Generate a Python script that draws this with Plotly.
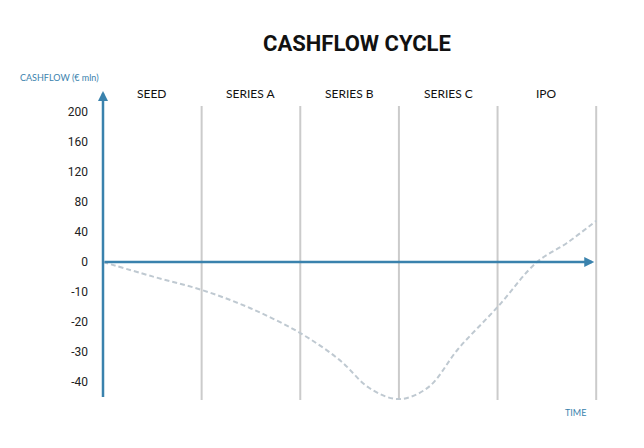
import plotly.graph_objects as go

# stage names shown above the timeline
stages = ["SEED", "SERIES A", "SERIES B", "SERIES C", "IPO"]

# y ticks (non-linear axis: 40 per step above zero, 10 per step below)
tick_labels = [200, 160, 120, 80, 40, 0, -10, -20, -30, -40]

# cashflow curve (time in stages, cashflow in € mln)
time_pts = [0, 0.5, 1, 1.5, 2, 2.4, 2.7, 3, 3.3, 3.6, 4, 4.4, 4.7, 5]
cash_pts = [0, -4.8, -9.3, -15.5, -23.7, -32.7, -42, -45.7, -41.7, -29, -15, 0, 25, 55]

AXIS_BLUE = "#3a82ad"
GRID_GRAY = "#cbcbcb"

Y_MIN, Y_MAX = -4.6, 5.8


def to_axis(v):
    # piecewise scale so each tick step has the same height
    return v / 40 if v >= 0 else v / 10


def paper_y(u):
    return (u - Y_MIN) / (Y_MAX - Y_MIN)


fig = go.Figure()

fig.add_trace(go.Scatter(
    x=time_pts,
    y=[to_axis(v) for v in cash_pts],
    mode="lines",
    line=dict(color="#bfc9d1", width=2, dash="5px,3px", shape="spline", smoothing=1),
    hoverinfo="skip",
    showlegend=False,
))

# stage boundaries
for i in range(1, len(stages) + 1):
    fig.add_shape(type="line", xref="x", yref="y", x0=i, x1=i, y0=-4.6, y1=5.2,
                  line=dict(color=GRID_GRAY, width=2), layer="below")

# stage labels
for i, s in enumerate(stages):
    fig.add_annotation(x=i + 0.5, y=5.62, xref="x", yref="y", text=s, showarrow=False,
                       font=dict(family="Lato", size=12, color="#111111"))

# axes with arrows
fig.add_annotation(x=0, y=5.7, ax=0, ay=-4.55, xref="x", yref="y", axref="x", ayref="y",
                   text="", showarrow=True, arrowhead=2, arrowsize=0.8, arrowwidth=2.5,
                   arrowcolor=AXIS_BLUE)
fig.add_annotation(x=4.98, y=0, ax=0, ay=0, xref="x", yref="y", axref="x", ayref="y",
                   text="", showarrow=True, arrowhead=2, arrowsize=0.8, arrowwidth=2.5,
                   arrowcolor=AXIS_BLUE)

fig.add_annotation(x=-0.167, y=paper_y(6.4), xref="paper", yref="paper", xanchor="left",
                   text="CASHFLOW (€ mln)", showarrow=False,
                   font=dict(family="Lato", size=9, color=AXIS_BLUE))
fig.add_annotation(x=4.92 / 5.15, y=paper_y(-5.25), xref="paper", yref="paper", text="TIME",
                   showarrow=False, font=dict(family="Lato", size=9, color=AXIS_BLUE))

fig.update_layout(
    width=644, height=448,
    margin=dict(l=95, r=41, t=80, b=56),
    paper_bgcolor="white", plot_bgcolor="white",
    title=dict(text="<b>CASHFLOW CYCLE</b>", x=0.5, xref="paper", y=1 - 35 / 448,
               yanchor="middle", font=dict(family="Roboto", size=22, color="#111111")),
    xaxis=dict(range=[0, 5.15], visible=False, fixedrange=True),
    yaxis=dict(range=[Y_MIN, Y_MAX], showgrid=False, zeroline=False, showline=False,
               tickvals=[to_axis(v) for v in tick_labels], ticktext=[str(v) for v in tick_labels],
               ticklabelstandoff=14, tickfont=dict(family="Roboto", size=12, color="#222222")),
)

fig.write_html("out.html")
